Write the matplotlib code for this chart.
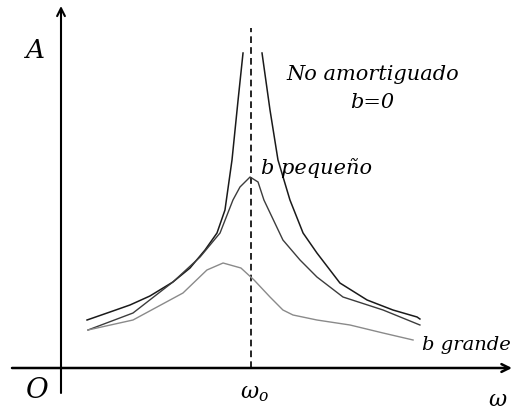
import matplotlib
matplotlib.use("Agg")
import matplotlib.pyplot as plt

plt.rcParams["mathtext.fontset"] = "dejavuserif"

# frequency in units of w0, amplitude in arbitrary units
# no damping (b = 0): two branches, diverging at w0
w_free_left = [0.137, 0.258, 0.363, 0.468, 0.589, 0.679, 0.758, 0.821, 0.863, 0.900, 0.932, 0.958]
a_free_left = [0.48, 0.56, 0.63, 0.72, 0.86, 1.00, 1.18, 1.35, 1.58, 2.08, 2.68, 3.15]
w_free_right = [1.058, 1.100, 1.142, 1.205, 1.274, 1.347, 1.468, 1.611, 1.747, 1.874, 1.889]
a_free_right = [3.15, 2.58, 2.08, 1.68, 1.35, 1.15, 0.85, 0.68, 0.58, 0.51, 0.49]

# small damping
w_small = [0.142, 0.379, 0.589, 0.732, 0.837, 0.905, 0.942, 0.995, 1.037, 1.068,
           1.168, 1.258, 1.347, 1.484, 1.695, 1.889]
a_small = [0.38, 0.55, 0.86, 1.11, 1.35, 1.68, 1.81, 1.91, 1.86, 1.68,
           1.28, 1.08, 0.91, 0.71, 0.58, 0.43]

# large damping
w_large = [0.142, 0.379, 0.642, 0.768, 0.853, 0.947, 1.016, 1.100, 1.168, 1.221,
           1.347, 1.521, 1.695, 1.853]
a_large = [0.38, 0.48, 0.75, 0.98, 1.05, 1.00, 0.88, 0.71, 0.58, 0.53,
           0.48, 0.43, 0.35, 0.28]

fig = plt.figure(figsize=(5.14, 4.09), dpi=100)
ax = fig.add_axes([0, 0, 1, 1])
ax.set_xlim(-61 / 190, 453 / 190)
ax.set_ylim(-0.41, 3.68)
ax.axis("off")

# axes with arrows
ax.annotate("", xy=(0, 3.62), xytext=(0, -0.25),
            arrowprops=dict(arrowstyle="->", lw=1.5, color="black",
                            shrinkA=0, shrinkB=0, mutation_scale=14))
ax.annotate("", xy=(451 / 190, 0), xytext=(-49 / 190, 0),
            arrowprops=dict(arrowstyle="->", lw=1.8, color="black",
                            shrinkA=0, shrinkB=0, mutation_scale=14))

# resonance line
ax.plot([1, 1], [0, 3.40], ls=(0, (4, 2.5)), color="black", lw=1.2)

ax.plot(w_free_left, a_free_left, color="#1a1a1a", lw=1.1)
ax.plot(w_free_right, a_free_right, color="#1a1a1a", lw=1.1)
ax.plot(w_small, a_small, color="#3c3c3c", lw=1.0)
ax.plot(w_large, a_large, color="#8a8a8a", lw=1.0)

font = dict(family="DejaVu Serif", style="italic", color="black")
ax.text(-0.14, 3.17, "A", fontsize=19, ha="center", va="center", **font)
ax.text(-0.125, -0.22, "O", fontsize=20, ha="center", va="center", **font)
ax.text(1.02, -0.26, r"$\omega_o$", fontsize=16, ha="center", va="center")
ax.text(2.30, -0.32, r"$\omega$", fontsize=16, ha="center", va="center")
ax.text(1.64, 2.94, "No amortiguado", fontsize=15, ha="center", va="center", **font)
ax.text(1.64, 2.66, "b=0", fontsize=15, ha="center", va="center", **font)
ax.text(1.055, 2.00, "b pequeño", fontsize=15, ha="left", va="center", **font)
ax.text(1.90, 0.23, "b grande", fontsize=14, ha="left", va="center", **font)

fig.savefig("out.png", dpi=100)
